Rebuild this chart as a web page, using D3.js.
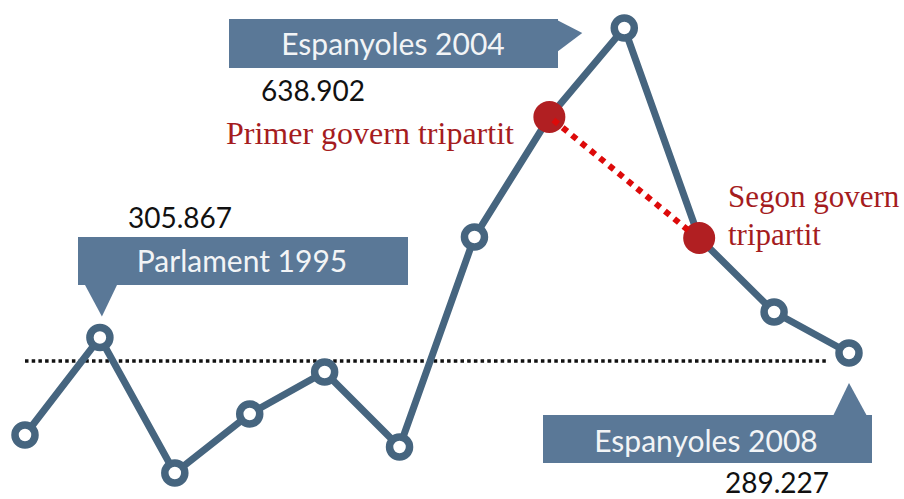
<!DOCTYPE html>
<html>
<head>
<meta charset="utf-8">
<script src="https://cdn.jsdelivr.net/npm/d3@7"></script>
<style>
  html, body { margin: 0; padding: 0; background: #fff; }
  svg { display: block; }
</style>
</head>
<body>
<svg id="chart" width="904" height="499"></svg>
<script>
// values (votes)
const steps = d3.range(12);
const values = [201000, 305867, 160100, 223600, 268800, 188100, 414000, 543100, 638902, 413000, 333300, 289227];
const threshold = 280600;
const redSteps = [7, 9];
const redLabels = [["Primer govern tripartit"], ["Segon govern", "tripartit"]];

const callouts = [
  { step: 1, title: "Parlament 1995", value: "305.867" },
  { step: 8, title: "Espanyoles 2004", value: "638.902" },
  { step: 11, title: "Espanyoles 2008", value: "289.227" },
];

const slate = "#46657f";
const boxFill = "#5a7897";
const red = "#b11f22";

const svg = d3.select("#chart");

const x = d3.scalePoint().domain(steps).range([25, 849]);
const y = d3.scaleLinear().domain([289227, 638902]).range([353, 28]);

const fmt = v => d3.format(",")(v).replace(/,/g, ".");

// threshold dotted line
svg.append("line")
  .attr("x1", x(0)).attr("x2", 828)
  .attr("y1", y(threshold)).attr("y2", y(threshold))
  .attr("stroke", "#111").attr("stroke-width", 3.5)
  .attr("stroke-dasharray", "3.5 3.2");

// callouts
function callout(c) {
  const g = svg.append("g");
  const px = x(c.step), py = y(values[c.step]);
  let box, tri, tx, ty, vx, vy;
  if (c.step === 1) {
    box = [78, 237, 330, 48];
    tri = [[85, 285], [117, 285], [px + 2, py - 21]];
    tx = 242; ty = 272; vx = 180; vy = 228;
  } else if (c.step === 8) {
    box = [229, 19, 329, 49];
    tri = [[557, 20], [px - 42, py + 5], [557, 52]];
    tx = 393; ty = 55; vx = 313; vy = 101;
  } else {
    box = [543, 415, 329, 48];
    tri = [[833, 416], [px, py + 30], [867, 416]];
    tx = 706; ty = 452; vx = 777; vy = 493;
  }
  g.append("rect")
    .attr("x", box[0]).attr("y", box[1]).attr("width", box[2]).attr("height", box[3])
    .attr("fill", boxFill);
  g.append("path")
    .attr("d", d3.line()(tri) + "Z")
    .attr("fill", boxFill);
  g.append("text")
    .attr("x", tx).attr("y", ty)
    .attr("text-anchor", "middle")
    .attr("font-family", "Lato, 'Open Sans', sans-serif")
    .attr("font-size", 30)
    .attr("fill", "#f2f4f6")
    .text(c.title);
  g.append("text")
    .attr("x", vx).attr("y", vy)
    .attr("text-anchor", "middle")
    .attr("font-family", "Lato, 'Open Sans', sans-serif")
    .attr("font-size", 28)
    .attr("fill", "#111")
    .text(fmt(values[c.step]));
}
callouts.forEach(callout);

// main line
svg.append("path")
  .datum(values)
  .attr("fill", "none")
  .attr("stroke", slate)
  .attr("stroke-width", 7)
  .attr("stroke-linejoin", "round")
  .attr("d", d3.line().x((d, i) => x(i)).y(d => y(d)));

// open markers
svg.selectAll("circle.pt")
  .data(steps.filter(i => !redSteps.includes(i)))
  .join("circle")
  .attr("class", "pt")
  .attr("cx", i => x(i)).attr("cy", i => y(values[i]))
  .attr("r", 10)
  .attr("fill", "#fff")
  .attr("stroke", slate)
  .attr("stroke-width", 7.5);

// red markers
svg.selectAll("circle.red")
  .data(redSteps)
  .join("circle")
  .attr("class", "red")
  .attr("cx", i => x(i)).attr("cy", i => y(values[i]))
  .attr("r", 16)
  .attr("fill", red);

// red dotted link between the two tripartit governments
svg.append("line")
  .attr("x1", x(redSteps[0]) + 4).attr("y1", y(values[redSteps[0]]) + 3)
  .attr("x2", x(redSteps[1]) - 10).attr("y2", y(values[redSteps[1]]) - 7)
  .attr("stroke", "#dd0a0a").attr("stroke-width", 6)
  .attr("stroke-dasharray", "6 6");

// red labels
const labelPos = [{ x: 226, y: 144, size: 32 }, { x: 728, y: 207, size: 31 }];
redLabels.forEach((lines, k) => {
  const t = svg.append("text")
    .attr("x", labelPos[k].x).attr("y", labelPos[k].y)
    .attr("font-family", "'Liberation Serif', 'DejaVu Serif', serif")
    .attr("font-size", labelPos[k].size)
    .attr("fill", "#a51c1e");
  lines.forEach((l, j) => {
    t.append("tspan").attr("x", labelPos[k].x).attr("dy", j ? 38 : 0).text(l);
  });
});
</script>
</body>
</html>
